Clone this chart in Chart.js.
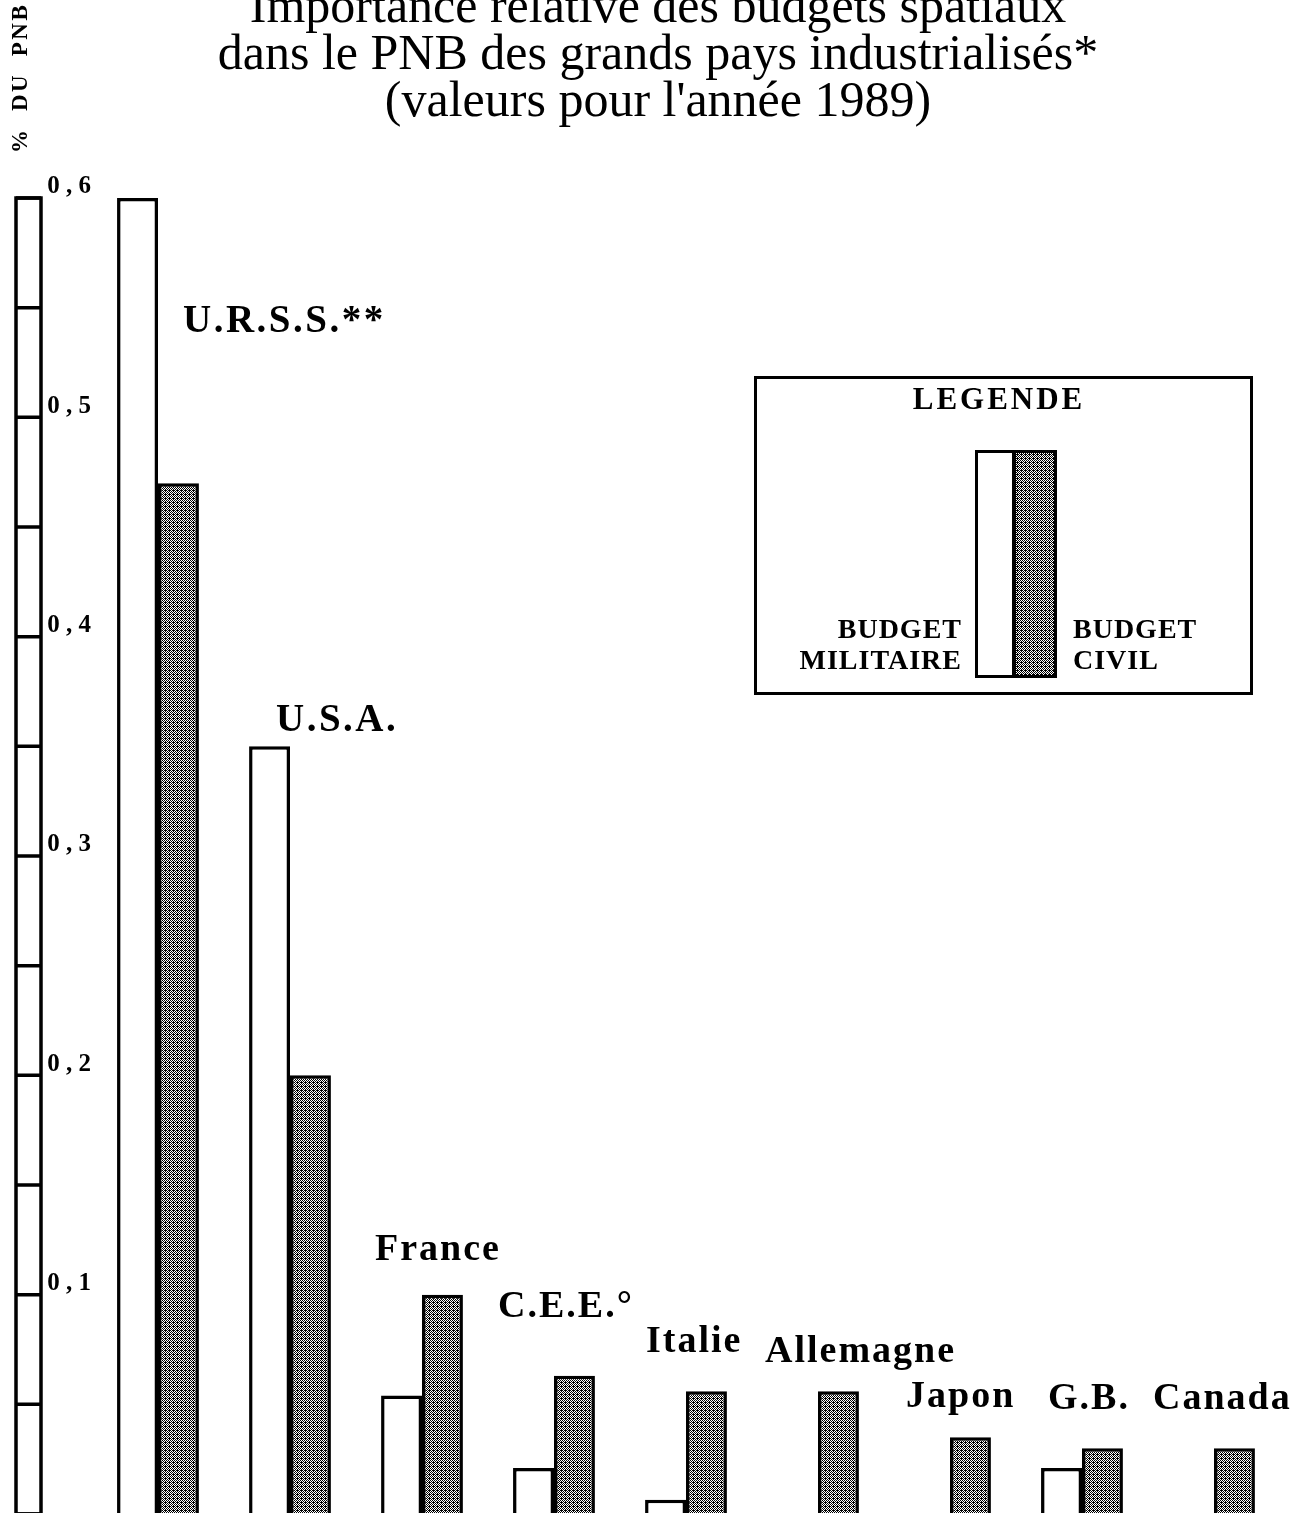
<!DOCTYPE html>
<html lang="fr">
<head>
<meta charset="utf-8">
<title>Budgets spatiaux 1989</title>
<script src="https://cdn.jsdelivr.net/npm/chart.js@4.4.1/dist/chart.umd.min.js"></script>
<style>
  html, body { margin: 0; padding: 0; background: #fff; }
  #cadre { width: 1306px; height: 1513px; overflow: hidden; position: relative; }
  #graphique { display: block; position: absolute; left: 0; top: -40px; }
</style>
</head>
<body>
<div id="cadre"><canvas id="graphique" width="1306" height="1570"></canvas></div>
<script>
// DONNEES (% du PNB, 1989)
const pays = ["U.R.S.S.**", "U.S.A.", "France", "C.E.E.°", "Italie", "Allemagne", "Japon", "G.B.", "Canada"];
const budgetMilitaire = [0.60, 0.35, 0.054, 0.021, 0.0065, 0, 0, 0.021, 0];
const budgetCivil = [0.47, 0.20, 0.10, 0.063, 0.056, 0.056, 0.035, 0.030, 0.030];
const nomsSeries = ["BUDGET MILITAIRE", "BUDGET CIVIL"];
const graduations = [0.1, 0.2, 0.3, 0.4, 0.5, 0.6];
const etiquettesGraduations = ["0 , 1", "0 , 2", "0 , 3", "0 , 4", "0 , 5", "0 , 6"];
const titre = [
  "Importance relative des budgets spatiaux",
  "dans le PNB des grands pays industrialisés*",
  "(valeurs pour l'année 1989)"
];
const titreAxe = "%  DU  PNB";

// placement des noms de pays : [décalage x depuis le centre de la catégorie, valeur y de la ligne de base]
const placeNoms = [[25, 0.539], [-14, 0.357], [-47, 0.116], [-56, 0.090], [-40, 0.074],
                   [-53, 0.0695], [-44, 0.049], [-34, 0.048], [-61, 0.048]];

const ctxGraphique = document.getElementById("graphique").getContext("2d");

// trame grise (points noirs alternés)
function trame() {
  const c = document.createElement("canvas");
  c.width = 4; c.height = 4;
  const g = c.getContext("2d");
  g.fillStyle = "#fff"; g.fillRect(0, 0, 4, 4);
  g.fillStyle = "#000";
  for (let y = 0; y < 4; y++) for (let x = 0; x < 4; x++) if ((x + y) % 2 === 0) g.fillRect(x, y, 1, 1);
  g.fillRect(1, 2, 1, 1);
  return ctxGraphique.createPattern(c, "repeat");
}
const gris = trame();

function texte(ctx, t, x, y, police, espace, align) {
  ctx.font = police;
  ctx.letterSpacing = espace + "px";
  ctx.textAlign = align || "left";
  ctx.fillText(t, x, y);
}

// AXE EN FORME DE REGLE + TITRE VERTICAL
const axeRegle = {
  id: "axeRegle",
  afterDraw(chart) {
    const { ctx, scales: { y } } = chart;
    const haut = y.getPixelForValue(y.max), bas = y.getPixelForValue(y.min);
    ctx.save();
    ctx.strokeStyle = "#000";
    ctx.lineWidth = 3.5;
    ctx.strokeRect(16, haut, 25, bas - haut);
    ctx.beginPath();
    y.ticks.forEach((t, i) => {
      const py = y.getPixelForTick(i);
      ctx.moveTo(16, py); ctx.lineTo(41, py);
    });
    ctx.stroke();

    ctx.fillStyle = "#000";
    ctx.translate(21, 193);
    ctx.rotate(-Math.PI / 2);
    ctx.textBaseline = "middle";
    texte(ctx, titreAxe, 0, 0, "bold 23px 'Liberation Serif'", 2.5);
    ctx.restore();
  }
};

// NOMS DES PAYS
const nomsPays = {
  id: "nomsPays",
  afterDatasetsDraw(chart) {
    const { ctx, scales: { x, y } } = chart;
    ctx.save();
    ctx.fillStyle = "#000";
    ctx.textBaseline = "alphabetic";
    pays.forEach((p, i) => {
      const [dx, v] = placeNoms[i];
      const grand = i < 2;
      texte(ctx, p, x.getPixelForValue(i) + dx, y.getPixelForValue(v),
        grand ? "bold 39px 'Liberation Serif'" : "bold 38px 'Liberation Serif'", grand ? 2.5 : 2);
    });
    ctx.restore();
  }
};

// LEGENDE
const legendeCadre = {
  id: "legendeCadre",
  afterDraw(chart) {
    const ctx = chart.ctx;
    const ds = chart.data.datasets;
    ctx.save();
    ctx.fillStyle = "#fff";
    ctx.fillRect(754, 416, 498, 318);
    ctx.strokeStyle = "#000";
    ctx.lineWidth = 3;
    ctx.strokeRect(755.5, 417.5, 496, 316);

    ctx.fillStyle = "#000";
    ctx.textBaseline = "alphabetic";
    texte(ctx, "LEGENDE", 999, 449, "bold 31px 'Liberation Serif'", 3, "center");

    ctx.fillStyle = ds[0].backgroundColor;
    ctx.fillRect(975, 490, 39, 228);
    ctx.fillStyle = ds[1].backgroundColor;
    ctx.fillRect(1014, 490, 43, 228);
    ctx.strokeRect(976.5, 491.5, 37, 225);
    ctx.strokeRect(1014.5, 491.5, 41, 225);

    ctx.fillStyle = "#000";
    const m = ds[0].label.split(" "), c = ds[1].label.split(" ");
    texte(ctx, m[0], 962, 678, "bold 28px 'Liberation Serif'", 1, "right");
    texte(ctx, m[1], 962, 709, "bold 28px 'Liberation Serif'", 1, "right");
    texte(ctx, c[0], 1073, 678, "bold 28px 'Liberation Serif'", 1, "left");
    texte(ctx, c[1], 1073, 709, "bold 28px 'Liberation Serif'", 1, "left");
    ctx.restore();
  }
};

Chart.defaults.font.family = "'Liberation Serif', 'Times New Roman', serif";
Chart.defaults.color = "#000";

new Chart(ctxGraphique, {
  type: "bar",
  data: {
    labels: pays,
    datasets: [
      { label: nomsSeries[0], data: budgetMilitaire, backgroundColor: "#fff", borderColor: "#000", borderWidth: 3.5 },
      { label: nomsSeries[1], data: budgetCivil, backgroundColor: gris, borderColor: "#000", borderWidth: 3.5 }
    ]
  },
  options: {
    responsive: false,
    animation: false,
    layout: { padding: { left: 36, right: 26, top: 0, bottom: 12 } },
    datasets: { bar: { categoryPercentage: 0.62, barPercentage: 1.0 } },
    plugins: {
      legend: { display: false },
      tooltip: { enabled: false },
      title: {
        display: true,
        text: titre,
        color: "#000",
        font: { size: 50, weight: "normal", lineHeight: 47 / 50 },
        padding: { top: 25, bottom: 72 }
      }
    },
    scales: {
      x: { display: false },
      y: {
        min: 0, max: 0.6,
        border: { display: false },
        grid: { display: false, drawTicks: false },
        afterFit(scale) { scale.width = 56; },
        ticks: {
          stepSize: 0.05,
          autoSkip: false,
          padding: 1,
          labelOffset: -11,
          font: { size: 25, weight: "bold" },
          callback: v => {
            const i = graduations.findIndex(g => Math.abs(g - v) < 1e-6);
            return i >= 0 ? etiquettesGraduations[i] : "";
          }
        }
      }
    }
  },
  plugins: [axeRegle, nomsPays, legendeCadre]
});
</script>
</body>
</html>
